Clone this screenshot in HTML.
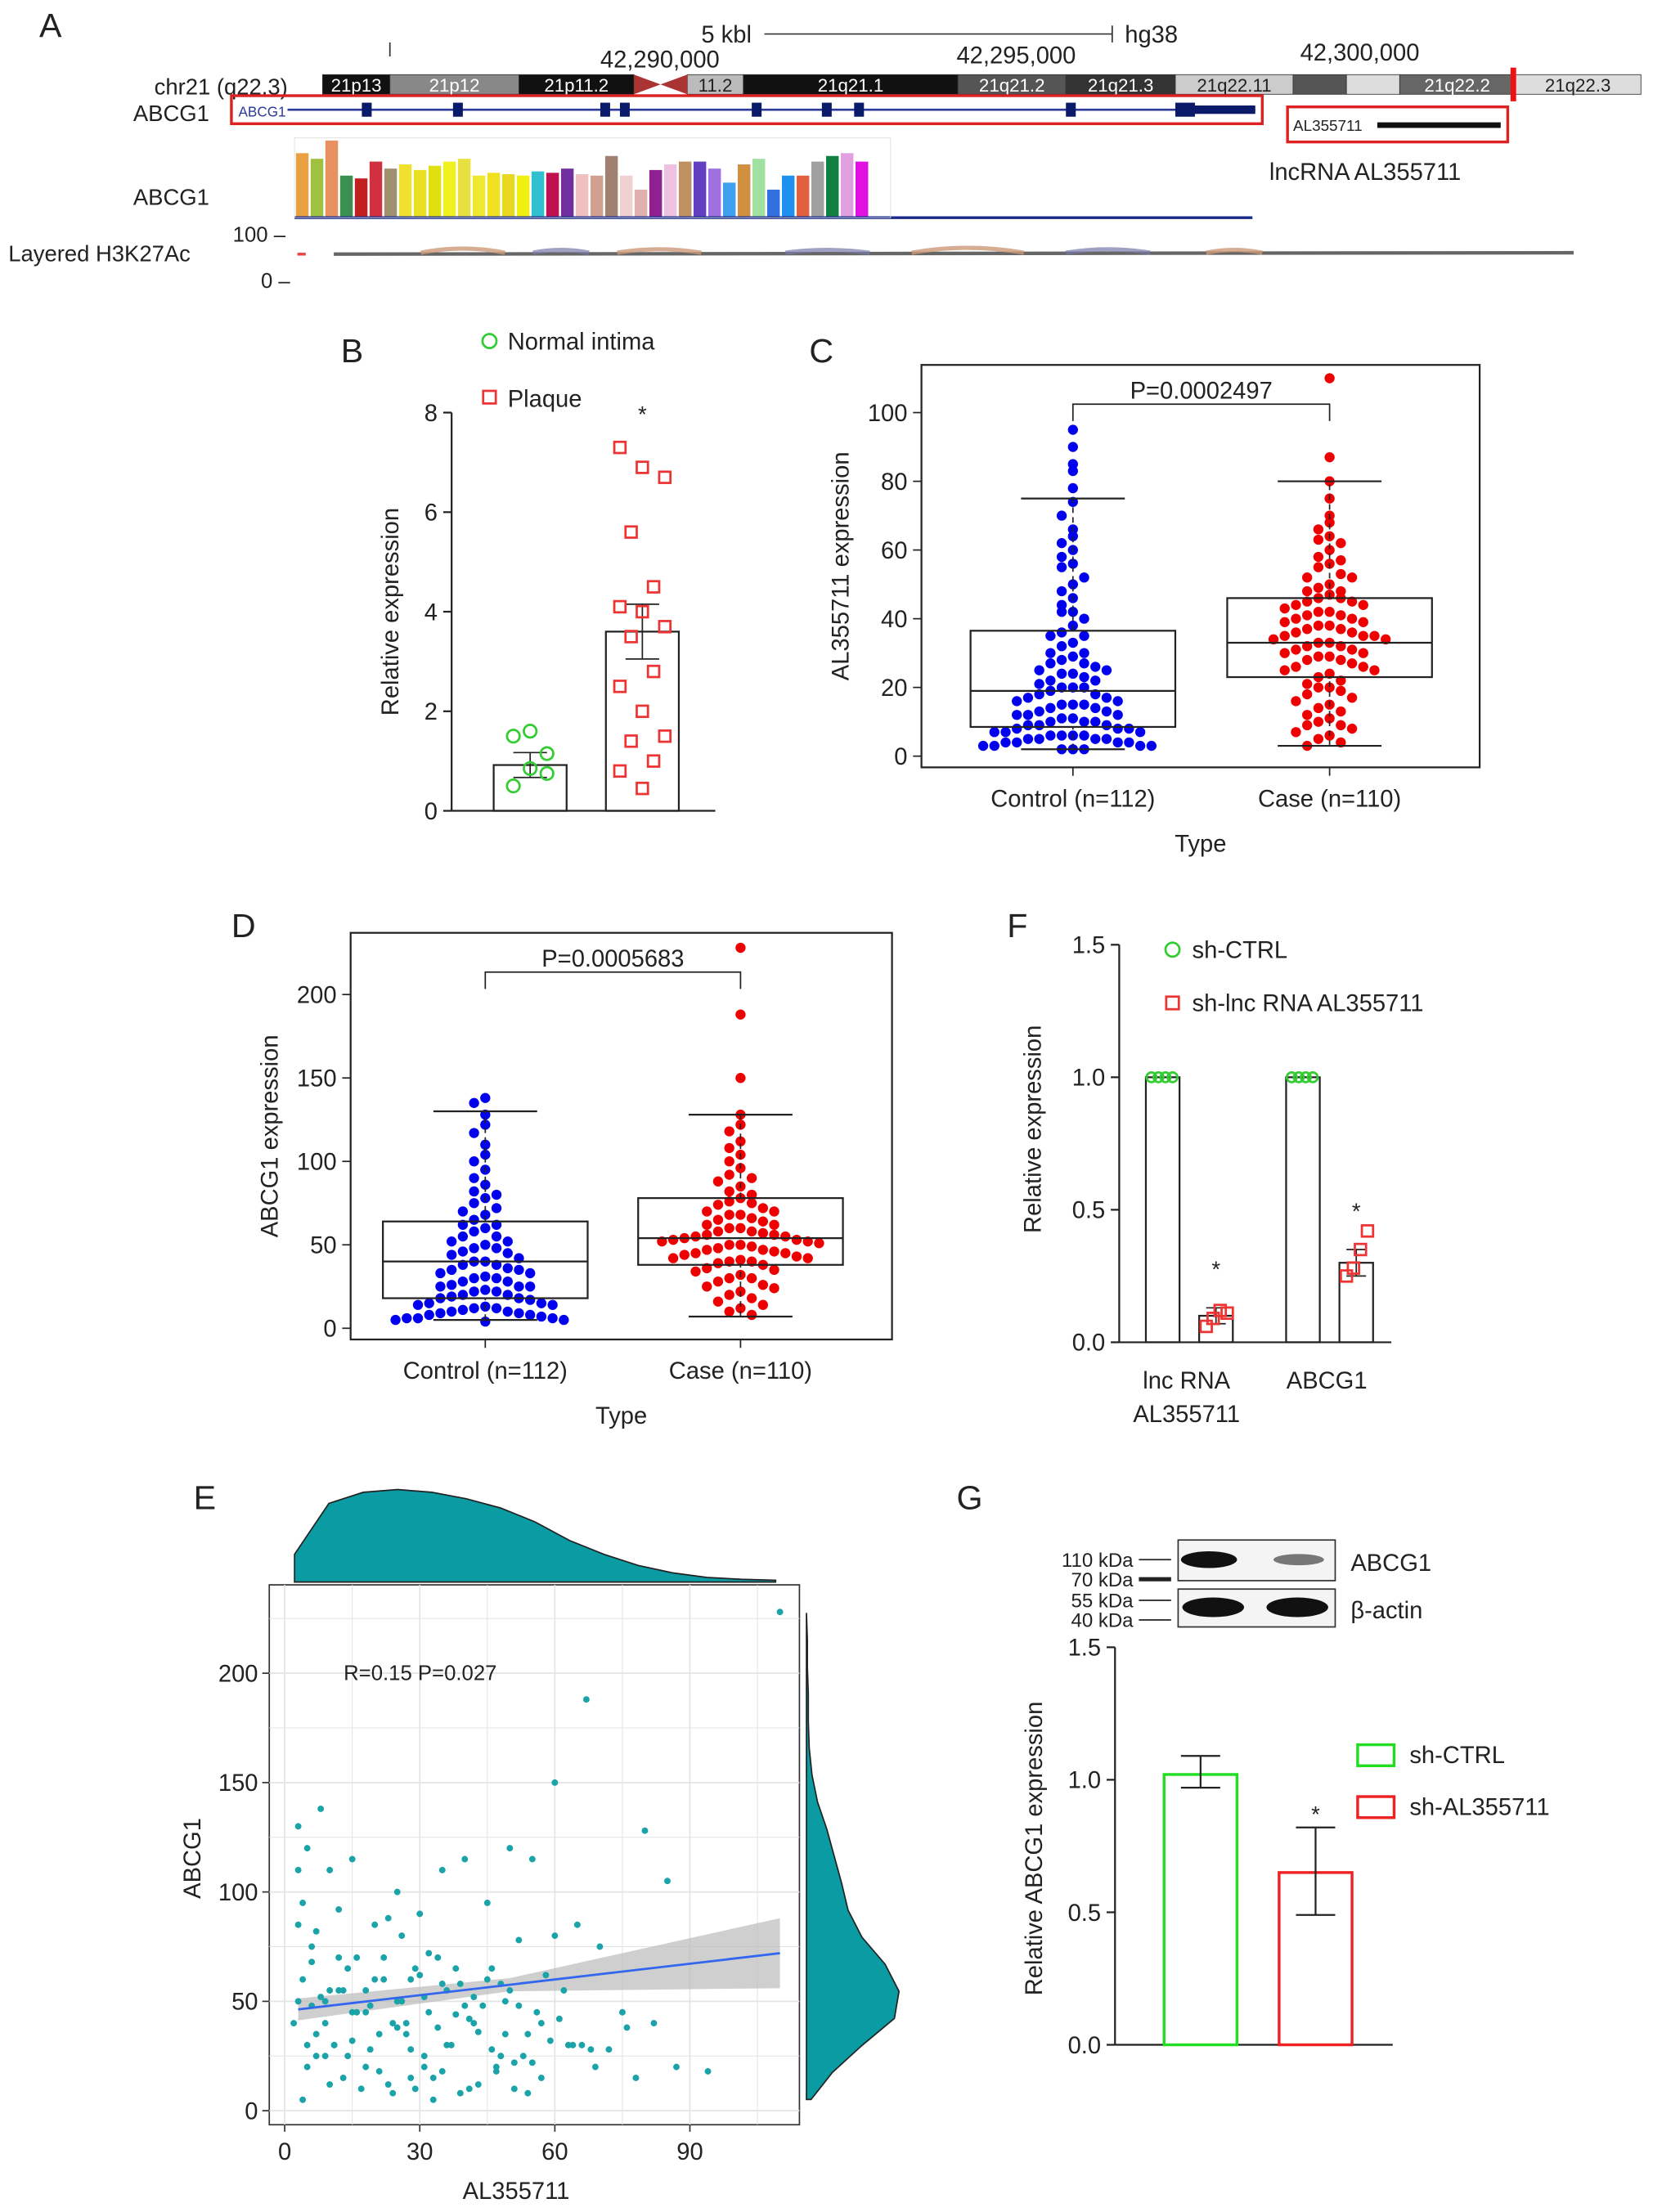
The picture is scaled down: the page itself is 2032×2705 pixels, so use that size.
<!DOCTYPE html>
<html><head><meta charset="utf-8"><style>
html,body{margin:0;padding:0;background:#fff}
svg{display:block}
text{font-family:"Liberation Sans",Arial,sans-serif;fill:#222}
</style></head><body>
<svg id="fig" width="2032" height="2705" viewBox="0 0 1185 1577" xmlns="http://www.w3.org/2000/svg">
<g id="pa">
<text x="28" y="26" font-size="24">A</text>
<text x="500" y="30" font-size="17">5 kbl</text>
<line x1="545" y1="24" x2="793" y2="24" stroke="#333"/>
<line x1="793" y1="18" x2="793" y2="30" stroke="#333"/>
<text x="802" y="30" font-size="17">hg38</text>
<line x1="278" y1="30" x2="278" y2="40" stroke="#333"/>
<text x="428" y="48" font-size="17">42,290,000</text>
<text x="682" y="45" font-size="17">42,295,000</text>
<text x="927" y="43" font-size="17">42,300,000</text>
<text x="110" y="67" font-size="16">chr21 (q22.3)</text>
<text x="95" y="86" font-size="16">ABCG1</text>
<text x="95" y="146" font-size="16">ABCG1</text>
<text x="6" y="186" font-size="16">Layered H3K27Ac</text>
<text x="166" y="172" font-size="15">100 –</text>
<text x="186" y="205" font-size="15">0 –</text>
<g id="chrom"></g>
<rect x="165" y="68" width="735" height="20" fill="none" stroke="#d22" stroke-width="2"/>
<text x="170" y="83" font-size="10" style="fill:#2a3a9a">ABCG1</text>
<line x1="205" y1="78" x2="895" y2="78" stroke="#2a3a9a" stroke-width="1.5"/>
<g id="exons"></g>
<rect x="918" y="76" width="157" height="25" fill="none" stroke="#d22" stroke-width="2"/>
<text x="922" y="93" font-size="11">AL355711</text>
<rect x="982" y="87" width="88" height="4" fill="#111"/>
<text x="905" y="128" font-size="17">lncRNA AL355711</text>
<g id="abars"></g>
<line x1="210" y1="155" x2="893" y2="155" stroke="#1a2a8a" stroke-width="2"/>
<rect x="210" y="98" width="425" height="57" fill="none" stroke="#ddd" stroke-width="0.5"/>
<line x1="212" y1="181" x2="218" y2="181" stroke="#e44" stroke-width="2"/>
<path d="M238 181 L1122 180" stroke="#666" stroke-width="2.5" fill="none"/>
<path d="M300 180 Q330 174 360 180 M440 180 Q470 175 500 180 M650 180 Q690 173 730 180 M860 180 Q880 176 900 180" stroke="#c97" stroke-width="3" fill="none" opacity="0.8"/>
<path d="M380 180 Q400 176 420 180 M560 180 Q590 176 620 180 M760 180 Q790 175 820 180" stroke="#77a" stroke-width="3" fill="none" opacity="0.7"/>
</g>
<g id="pb"></g>
<g id="pc"></g>
<g id="pd"></g>
<g id="pf"></g>
<g id="pe"></g>
<g id="pg"></g>
</svg>
<script>
// ---- Panel B data
const bGroups = ["Normal intima","Plaque"];
const bMeans = [0.92, 3.6];
const bSem = [0.25, 0.55];
const bNormal = [0.5, 0.85, 1.15, 1.5, 1.6, 0.75];
const bPlaque = [7.3, 6.9, 6.7, 5.6, 4.5, 4.1, 4.0, 3.7, 3.5, 2.8, 2.5, 2.0, 1.5, 1.4, 1.0, 0.8, 0.45];
// ---- Panel C data
const cCats = ["Control (n=112)","Case (n=110)"];
const cBox = [[2,8.5,19,36.5,75],[3,23,33,46,80]];
const cPval = "P=0.0002497";
const cControl = [95,90,85,83,78,74,70,66,62,60,58,55,52,50,48,46,44,42,40,38,36,35,33,32,30,29,28,27,26,25,24,23,22,21,20,20,19,18,17,16,15,15,14,13,12,12,11,10,10,9,9,8,8,7,7,6,6,5,5,5,4,4,3,3,3,2,2,18,22,14,11,8,6,4,30,25,16,13,9,5,3,7,12,20,27,35,42,56,64,4,6,10,2,15,17,24];
const cCase = [110,87,80,75,70,68,66,64,62,60,58,56,55,53,52,50,49,48,47,46,45,44,43,42,41,40,39,38,37,36,35,35,34,33,32,31,30,29,28,28,27,26,25,24,23,22,21,20,19,18,17,15,14,12,11,10,9,8,7,6,5,4,3,44,38,33,30,26,41,36,34,31,29,37,40,45,48,52,57,63,25,20,16,13,9,35,32,42,46,39];
// ---- Panel D data
const dBox = [[5,18,40,64,130],[7,38,54,78,128]];
const dPval = "P=0.0005683";
const dControl = [138,135,128,122,117,110,104,100,95,90,86,82,78,75,72,68,65,62,60,58,55,52,50,48,46,44,42,40,38,36,35,33,31,30,28,26,25,23,22,20,19,18,17,15,14,13,12,11,10,9,8,7,6,6,5,5,4,40,45,30,25,55,62,20,15,10,8,12,18,25,33,38,48,52,70,80,6,9,14,22,28,35];
const dCase = [228,188,150,128,122,118,112,108,104,100,96,92,90,88,85,82,80,78,76,74,72,70,68,66,64,62,60,58,57,56,55,54,53,52,51,50,49,48,47,46,45,44,43,42,41,40,39,38,36,34,32,30,28,26,24,22,20,18,16,14,12,10,8,60,65,55,50,58,52,47,53,56,62,45,42,70,75,68,40,35,30,25];
// ---- Panel E data
const eX = [110,67,60,80,85,3,5,8,10,15,20,25,30,35,40,45,50,55,60,65,70,75,4,6,9,12,14,18,22,26,28,32,36,38,42,44,48,52,56,58,62,2,7,11,16,19,24,27,31,34,37,41,46,49,53,57,63,72,78,87,94,5,9,13,17,21,23,29,33,39,43,47,51,54,3,6,8,12,15,20,25,30,35,40,45,50,4,10,18,24,28,33,41,47,55,66,3,4,6,7,9,11,13,14,16,18,21,23,26,27,29,31,32,34,36,39,42,46,49,51,54,57,61,64,69,76,3,5,7,10,12,15,19,22,25,28,31,35,38,43,48,52,59,68,82];
const eY = [228,188,150,128,105,130,120,138,110,115,85,100,90,110,115,95,120,115,80,85,75,45,60,75,50,92,65,55,70,80,60,72,55,65,52,48,58,78,45,62,55,40,35,30,45,28,40,35,25,38,30,42,28,35,25,40,30,28,15,20,18,20,25,15,10,18,12,10,15,8,12,20,10,8,50,48,52,55,45,60,50,62,58,48,60,55,5,12,20,8,15,5,10,18,22,30,110,95,68,82,40,30,55,25,70,45,35,88,50,40,65,20,45,70,30,58,40,65,50,22,35,15,42,30,20,38,85,30,25,55,70,32,48,60,38,28,52,18,44,36,25,48,32,28,40];
const eDensX = [0.3,0.85,0.97,1.0,0.97,0.9,0.8,0.65,0.45,0.3,0.18,0.1,0.05,0.03,0.02];
const eDensY = [0.05,0.28,0.6,0.95,1.0,0.85,0.6,0.45,0.38,0.3,0.22,0.12,0.06,0.03,0.02,0.02,0.01,0.01,0.0];
// ---- Panel F data
const fCats = ["lnc RNA\nAL355711","ABCG1"];
const fCtrl = [1.0, 1.0];
const fSh = [0.1, 0.3];
const fShErr = [0.03, 0.05];
const fShPts = [[0.06,0.09,0.12,0.11],[0.25,0.28,0.35,0.42]];
// ---- Panel G data
const gCats = ["sh-CTRL","sh-AL355711"];
const gMeans = [1.02, 0.65];
const gLo = [0.97, 0.49];
const gHi = [1.09, 0.82];

const NS="http://www.w3.org/2000/svg";
function el(parent,tag,attrs,txt){const e=document.createElementNS(NS,tag);for(const k in attrs)e.setAttribute(k,attrs[k]);if(txt!==undefined)e.textContent=txt;parent.appendChild(e);return e;}

(function(){
 const g=document.getElementById('chrom');
 const bands=[[230,278,'#111','21p13'],[278,370,'#888','21p12'],[370,452,'#111','21p11.2'],[490,530,'#bbb','11.2'],[530,683,'#111','21q21.1'],[683,760,'#555','21q21.2'],[760,838,'#333','21q21.3'],[838,922,'#ccc','21q22.11'],[922,960,'#555',''],[960,998,'#ddd',''],[998,1080,'#666','21q22.2'],[1080,1170,'#ddd','21q22.3']];
 bands.forEach(b=>{el(g,'rect',{x:b[0],y:53,width:b[1]-b[0],height:14,fill:b[2],stroke:'#333','stroke-width':0.5});
  if(b[3]){el(g,'text',{x:(b[0]+b[1])/2,y:65,'font-size':13,'text-anchor':'middle',style:'fill:'+(['#111','#333','#555','#666','#888'].includes(b[2])?'#fff':'#222')},b[3]);}});
 el(g,'path',{d:'M452 53 L490 67 L490 53 L452 67 Z',fill:'#a33'});
 el(g,'rect',{x:1077,y:48,width:4,height:24,fill:'#e11'});
 const ex=document.getElementById('exons');
 [258,323,428,442,536,586,609,760].forEach(x=>el(ex,'rect',{x:x,y:73,width:7,height:10,fill:'#0a1a6a'}));
 el(ex,'rect',{x:838,y:73,width:14,height:10,fill:'#0a1a6a'});el(ex,'rect',{x:852,y:75,width:43,height:6,fill:'#0a1a6a'});
 const ab=document.getElementById('abars');
 const cols=['#e8a040','#a0c040','#e89060','#3a9050','#c02020','#d03040','#a09070','#f0e030','#e8e020','#e0e010','#f0f020','#e8e040','#f0e830','#f0e020','#e8d820','#f0f010','#30c0d0','#c01050','#7030a0','#f0c0c0','#d0a090','#a08070','#f0d0d0','#e0b0b0','#902090','#f0c0e0','#c09060','#6040c0','#a070e0','#40a0f0','#d09040','#a0e0a0','#3070e0','#2090f0','#e06040','#a0a0a0','#108040','#e0a0e0','#e010e0'];
 const hts=[46,42,55,30,28,40,35,38,34,37,40,42,30,32,31,30,33,32,35,31,30,44,30,20,34,38,40,40,35,25,38,42,20,30,30,40,44,46,40,36,30,32,35,34];
 for(let i=0;i<cols.length;i++){const w=10.5;const r=el(ab,'rect',{x:211+i*w,y:155-hts[i],width:w-1.5,height:hts[i],fill:cols[i]});
 
 }
})();

function yAxis(g,x,y0,pxPer,ticks,fmt,fs){el(g,'line',{x1:x,y1:y0-ticks[ticks.length-1]*pxPer,x2:x,y2:y0,stroke:'#222','stroke-width':1.3});
 ticks.forEach(t=>{const y=y0-t*pxPer;el(g,'line',{x1:x-6,y1:y,x2:x,y2:y,stroke:'#222','stroke-width':1.3});el(g,'text',{x:x-10,y:y+6,'font-size':fs||17,'text-anchor':'end'},fmt?fmt(t):t);});}
function circle(g,x,y,c,r){el(g,'circle',{cx:x,cy:y,r:r||4.5,fill:'none',stroke:c,'stroke-width':1.6});}
function square(g,x,y,c,s){s=s||8;el(g,'rect',{x:x-s/2,y:y-s/2,width:s,height:s,fill:'none',stroke:c,'stroke-width':1.6});}

(function(){
 const g=document.getElementById('pb');
 const y0=578, k=35.5, xa=322;
 el(g,'text',{x:243,y:258,'font-size':24},'B');
 circle(g,349,243,'#3c3',5);el(g,'text',{x:362,y:249,'font-size':17},'Normal intima');
 square(g,349,283,'#e33',9);el(g,'text',{x:362,y:290,'font-size':17},'Plaque');
 yAxis(g,xa,y0,k,[0,2,4,6,8]);
 el(g,'line',{x1:xa,y1:y0,x2:510,y2:y0,stroke:'#222','stroke-width':1.3});
 el(g,'text',{x:284,y:436,'font-size':17,'text-anchor':'middle',transform:'rotate(-90 284 436)'},'Relative expression');
 const cx=[378,458];
 for(let i=0;i<2;i++){const r=el(g,'rect',{x:cx[i]-26,y:y0-bMeans[i]*k,width:52,height:bMeans[i]*k,fill:'none',stroke:'#222','stroke-width':1.3});
 
 
 const hi=y0-(bMeans[i]+bSem[i])*k, lo=y0-(bMeans[i]-bSem[i])*k;
 el(g,'line',{x1:cx[i],y1:hi,x2:cx[i],y2:lo,stroke:'#222'});el(g,'line',{x1:cx[i]-12,y1:hi,x2:cx[i]+12,y2:hi,stroke:'#222'});el(g,'line',{x1:cx[i]-12,y1:lo,x2:cx[i]+12,y2:lo,stroke:'#222'});}
 bNormal.forEach((v,i)=>circle(g,cx[0]+((i%3)-1)*12,y0-v*k,'#3c3'));
 bPlaque.forEach((v,i)=>square(g,cx[1]+((i*7)%5-2)*8,y0-v*k,'#e33'));
 el(g,'text',{x:458,y:y0-(bMeans[1]+bSem[1])*k-130,'font-size':16,'text-anchor':'middle'},'*');
})();

function boxPanel(gid,label,lx,ly,frame,y0,k,ticks,cx,box,ctrl,cas,pval,ylabel){
 const g=document.getElementById(gid);
 el(g,'text',{x:lx,y:ly,'font-size':24},label);
 el(g,'rect',{x:frame[0],y:frame[1],width:frame[2]-frame[0],height:frame[3]-frame[1],fill:'none',stroke:'#222','stroke-width':1.3});
 ticks.forEach(t=>{const y=y0-t*k;el(g,'line',{x1:frame[0]-6,y1:y,x2:frame[0],y2:y,stroke:'#222'});el(g,'text',{x:frame[0]-10,y:y+6,'font-size':17,'text-anchor':'end'},t);});
 const my=(frame[1]+frame[3])/2;
 el(g,'text',{x:frame[0]-52,y:my,'font-size':17,'text-anchor':'middle',transform:`rotate(-90 ${frame[0]-52} ${my})`},ylabel);
 [ctrl,cas].forEach((arr,j)=>{const c=j?'#e00':'#00e';
  const sorted=arr.slice().sort((a,b)=>b-a);const counts={};
  sorted.forEach((v,i)=>{const bin=Math.round(v*k/11);counts[bin]=(counts[bin]||0)+1;const n=counts[bin];
   const off=(n%2?1:-1)*Math.floor(n/2)*8;
   const p=el(g,'circle',{cx:cx[j]+off,cy:y0-v*k,r:3.6,fill:c});
   
   });});
 box.forEach((b,j)=>{const x=cx[j];const w=73;
  el(g,'line',{x1:x,y1:y0-b[0]*k,x2:x,y2:y0-b[1]*k,stroke:'#222','stroke-dasharray':'4,3'});
  el(g,'line',{x1:x,y1:y0-b[3]*k,x2:x,y2:y0-b[4]*k,stroke:'#222','stroke-dasharray':'4,3'});
  el(g,'line',{x1:x-37,y1:y0-b[0]*k,x2:x+37,y2:y0-b[0]*k,stroke:'#222','stroke-width':1.3});
  el(g,'line',{x1:x-37,y1:y0-b[4]*k,x2:x+37,y2:y0-b[4]*k,stroke:'#222','stroke-width':1.3});
  const r=el(g,'rect',{x:x-w,y:y0-b[3]*k,width:2*w,height:(b[3]-b[1])*k,fill:'none',stroke:'#222','stroke-width':1.3});
  
  
  el(g,'line',{x1:x-w,y1:y0-b[2]*k,x2:x+w,y2:y0-b[2]*k,stroke:'#222','stroke-width':1.3});
  el(g,'line',{x1:x,y1:frame[3],x2:x,y2:frame[3]+6,stroke:'#222'});
  el(g,'text',{x:x,y:frame[3]+28,'font-size':17,'text-anchor':'middle'},cCats[j]);});
 const by=frame[1]+28;
 el(g,'path',{d:`M${cx[0]} ${by+12} L${cx[0]} ${by} L${cx[1]} ${by} L${cx[1]} ${by+12}`,fill:'none',stroke:'#222'});
 el(g,'text',{x:(cx[0]+cx[1])/2,y:by-4,'font-size':17,'text-anchor':'middle'},pval);
 el(g,'text',{x:(frame[0]+frame[2])/2,y:frame[3]+60,'font-size':17,'text-anchor':'middle'},'Type');
}
boxPanel('pc','C',577,258,[657,260,1055,547],539,2.45,[0,20,40,60,80,100],[765,948],cBox,cControl,cCase,cPval,'AL355711 expression');
boxPanel('pd','D',165,668,[250,665,636,955],947,1.19,[0,50,100,150,200],[346,528],dBox,dControl,dCase,dPval,'ABCG1 expression');

(function(){
 const g=document.getElementById('pf');const y0=957,k=189,xa=798;
 el(g,'text',{x:718,y:668,'font-size':24},'F');
 circle(g,836,677,'#3c3',5);el(g,'text',{x:850,y:683,'font-size':17},'sh-CTRL');
 square(g,836,715,'#e33',9);el(g,'text',{x:850,y:721,'font-size':17},'sh-lnc RNA AL355711');
 yAxis(g,xa,y0,k,[0,0.5,1,1.5],t=>t.toFixed(1));
 el(g,'line',{x1:xa,y1:y0,x2:992,y2:y0,stroke:'#222','stroke-width':1.3});
 el(g,'text',{x:742,y:805,'font-size':17,'text-anchor':'middle',transform:'rotate(-90 742 805)'},'Relative expression');
 const gx=[848,948];
 for(let i=0;i<2;i++){const x1=gx[i]-31,x2=gx[i]+7;
  const r1=el(g,'rect',{x:x1,y:y0-fCtrl[i]*k,width:24,height:fCtrl[i]*k,fill:'none',stroke:'#222','stroke-width':1.3});
  
  
  for(let j=0;j<4;j++)circle(g,x1+4+j*5,y0-fCtrl[i]*k,'#3c3',3.5);
  const r2=el(g,'rect',{x:x2,y:y0-fSh[i]*k,width:24,height:fSh[i]*k,fill:'none',stroke:'#222','stroke-width':1.3});
  
  
  const hi=y0-(fSh[i]+fShErr[i])*k,lo=y0-(fSh[i]-fShErr[i])*k;
  el(g,'line',{x1:x2+12,y1:hi,x2:x2+12,y2:lo,stroke:'#222'});el(g,'line',{x1:x2+5,y1:hi,x2:x2+19,y2:hi,stroke:'#222'});el(g,'line',{x1:x2+5,y1:lo,x2:x2+19,y2:lo,stroke:'#222'});
  fShPts[i].forEach((v,j)=>square(g,x2+5+j*5,y0-v*k,'#e33',8));
  el(g,'text',{x:x2+12,y:hi-22,'font-size':16,'text-anchor':'middle'},'*');
  const lines=fCats[i].split('\n');lines.forEach((l,li)=>el(g,'text',{x:gx[i]-2,y:y0+33+li*24,'font-size':17,'text-anchor':'middle'},l));}
})();

(function(){
 const g=document.getElementById('pe');
 const X=v=>203+v*3.21, Y=v=>1505-v*1.56;
 el(g,'text',{x:138,y:1076,'font-size':24},'E');
 el(g,'rect',{x:192,y:1130,width:378,height:385,fill:'#fff',stroke:'#333','stroke-width':1});
 [0,15,30,45,60,75,90,105].forEach(v=>el(g,'line',{x1:X(v),y1:1130,x2:X(v),y2:1515,stroke:'#e4e4e4','stroke-width':v%30?0.6:1}));
 [0,25,50,75,100,125,150,175,200,225].forEach(v=>el(g,'line',{x1:192,y1:Y(v),x2:570,y2:Y(v),stroke:'#e4e4e4','stroke-width':v%50?0.6:1}));
 [0,30,60,90].forEach(v=>{el(g,'line',{x1:X(v),y1:1515,x2:X(v),y2:1520,stroke:'#333'});el(g,'text',{x:X(v),y:1540,'font-size':17,'text-anchor':'middle'},v);});
 [0,50,100,150,200].forEach(v=>{el(g,'line',{x1:187,y1:Y(v),x2:192,y2:Y(v),stroke:'#333'});el(g,'text',{x:184,y:Y(v)+6,'font-size':17,'text-anchor':'end'},v);});
 el(g,'text',{x:368,y:1568,'font-size':17,'text-anchor':'middle'},'AL355711');
 el(g,'text',{x:143,y:1325,'font-size':17,'text-anchor':'middle',transform:'rotate(-90 143 1325)'},'ABCG1');
 el(g,'text',{x:245,y:1198,'font-size':15},'R=0.15 P=0.027');
 const b0=45.6,b1=0.24;
 el(g,'path',{d:`M${X(3)} ${Y(b0+b1*3+5)} L${X(50)} ${Y(b0+b1*50+3)} L${X(110)} ${Y(b0+b1*110+16)} L${X(110)} ${Y(b0+b1*110-16)} L${X(50)} ${Y(b0+b1*50-3)} L${X(3)} ${Y(b0+b1*3-5)} Z`,fill:'#bbb',opacity:0.7});
 eX.forEach((x,i)=>{const p=el(g,'circle',{cx:X(x),cy:Y(eY[i]),r:2.3,fill:'#1aa3a8'});
  
  });
 el(g,'line',{x1:X(3),y1:Y(b0+b1*3),x2:X(110),y2:Y(b0+b1*110),stroke:'#3366ee','stroke-width':1.6,});
 let d=`M210 1128`;eDensX.forEach((v,i)=>{d+=` L${210+i*343/(eDensX.length-1)} ${1128-v*66}`;});d+=' L553 1128 Z';
 el(g,'path',{d:d,fill:'#0a9ba3',stroke:'#222','stroke-width':1,});
 let d2=`M575 1497`;eDensY.forEach((v,i)=>{d2+=` L${575+v*66} ${1497-i*347/(eDensY.length-1)}`;});d2+=' L575 1150 Z';
 el(g,'path',{d:d2,fill:'#0a9ba3',stroke:'#222','stroke-width':1,});
})();

(function(){
 const g=document.getElementById('pg');const y0=1458,k=189,xa=795;
 el(g,'text',{x:682,y:1076,'font-size':24},'G');
 [['110 kDa',1112],['70 kDa',1126],['55 kDa',1141],['40 kDa',1155]].forEach((m,i)=>{el(g,'text',{x:808,y:m[1]+5,'font-size':14,'text-anchor':'end'},m[0]);el(g,'line',{x1:812,y1:m[1],x2:835,y2:m[1],stroke:'#222','stroke-width':i==1?3:1});});
 el(g,'rect',{x:840,y:1098,width:112,height:29,fill:'#f4f4f4',stroke:'#333'});
 el(g,'rect',{x:840,y:1133,width:112,height:27,fill:'#f4f4f4',stroke:'#333'});
 el(g,'ellipse',{cx:862,cy:1112,rx:20,ry:6,fill:'#111'});el(g,'ellipse',{cx:926,cy:1112,rx:18,ry:4,fill:'#777'});
 el(g,'ellipse',{cx:865,cy:1146,rx:22,ry:7,fill:'#111'});el(g,'ellipse',{cx:925,cy:1146,rx:22,ry:7,fill:'#111'});
 el(g,'text',{x:963,y:1120,'font-size':17},'ABCG1');el(g,'text',{x:963,y:1154,'font-size':17},'β-actin');
 yAxis(g,xa,y0,k,[0,0.5,1,1.5],t=>t.toFixed(1));
 el(g,'line',{x1:xa,y1:y0,x2:993,y2:y0,stroke:'#222','stroke-width':1.3});
 el(g,'text',{x:743,y:1318,'font-size':17,'text-anchor':'middle',transform:'rotate(-90 743 1318)'},'Relative ABCG1 expression');
 const cx=[856,938],cols=['#2d2','#e22'];
 for(let i=0;i<2;i++){const r=el(g,'rect',{x:cx[i]-26,y:y0-gMeans[i]*k,width:52,height:gMeans[i]*k,fill:'none',stroke:cols[i],'stroke-width':2});
  
  
  const hi=y0-gHi[i]*k,lo=y0-gLo[i]*k;
  el(g,'line',{x1:cx[i],y1:hi,x2:cx[i],y2:lo,stroke:'#222','stroke-width':1.3});el(g,'line',{x1:cx[i]-14,y1:hi,x2:cx[i]+14,y2:hi,stroke:'#222','stroke-width':1.3});el(g,'line',{x1:cx[i]-14,y1:lo,x2:cx[i]+14,y2:lo,stroke:'#222','stroke-width':1.3});
  el(g,'rect',{x:968,y:1244+i*37,width:26,height:15,fill:'none',stroke:cols[i],'stroke-width':2});
  el(g,'text',{x:1005,y:1257+i*37,'font-size':17},gCats[i]);}
 el(g,'text',{x:938,y:y0-gHi[1]*k-4,'font-size':16,'text-anchor':'middle'},'*');
})();
</script>
</body></html>
